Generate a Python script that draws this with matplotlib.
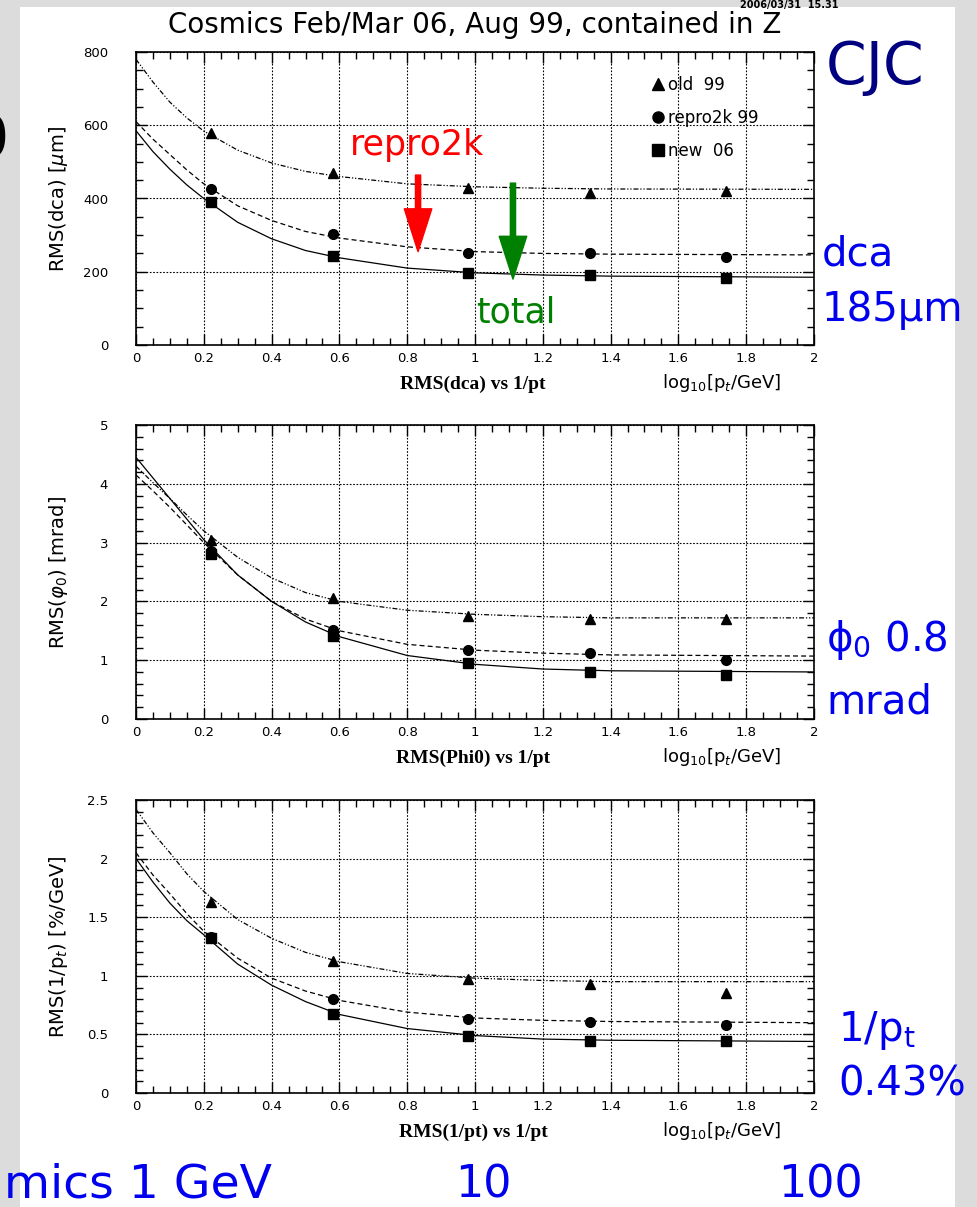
"""
CJC cosmics resolution vs log10(pt) - three panels
"""

import matplotlib.pyplot as plt
from matplotlib.lines import Line2D
from matplotlib.patches import Rectangle
from matplotlib.ticker import MultipleLocator

W, H = 978, 1207

# measured points (x = log10[pt/GeV])
x_pts = [0.22, 0.58, 0.98, 1.34, 1.74]

dca_old = [580, 470, 430, 415, 420]
dca_repro = [425, 302, 250, 250, 240]
dca_new = [390, 242, 197, 190, 182]

phi_old = [3.05, 2.05, 1.75, 1.70, 1.70]
phi_repro = [2.85, 1.52, 1.18, 1.12, 1.00]
phi_new = [2.80, 1.42, 0.95, 0.80, 0.75]

pt_old = [1.63, 1.13, 0.97, 0.93, 0.85]
pt_repro = [1.33, 0.80, 0.63, 0.61, 0.58]
pt_new = [1.32, 0.67, 0.49, 0.44, 0.44]

# fitted curves
x_fit = [0.0, 0.05, 0.1, 0.15, 0.2, 0.3, 0.4, 0.5, 0.6, 0.8, 1.0, 1.2, 1.4, 2.0]

dca_old_fit = [780, 718, 663, 620, 584, 532, 497, 474, 460, 440, 432, 428, 426, 425]
dca_repro_fit = [610, 562, 520, 478, 440, 380, 340, 310, 292, 268, 255, 250, 248, 246]
dca_new_fit = [585, 528, 480, 437, 400, 335, 290, 258, 238, 210, 197, 191, 188, 185]

phi_old_fit = [4.30, 4.02, 3.75, 3.47, 3.20, 2.75, 2.40, 2.15, 2.00, 1.85, 1.78, 1.74, 1.72, 1.72]
phi_repro_fit = [4.15, 3.88, 3.60, 3.30, 3.00, 2.45, 2.00, 1.70, 1.50, 1.27, 1.17, 1.12, 1.09, 1.07]
phi_new_fit = [4.45, 4.10, 3.75, 3.40, 3.05, 2.45, 2.00, 1.65, 1.40, 1.08, 0.93, 0.85, 0.82, 0.80]

pt_old_fit = [2.42, 2.22, 2.05, 1.87, 1.72, 1.48, 1.32, 1.20, 1.12, 1.02, 0.98, 0.96, 0.95, 0.95]
pt_repro_fit = [2.05, 1.86, 1.70, 1.53, 1.38, 1.15, 0.98, 0.87, 0.79, 0.69, 0.64, 0.62, 0.61, 0.60]
pt_new_fit = [2.00, 1.80, 1.62, 1.47, 1.35, 1.10, 0.92, 0.78, 0.67, 0.55, 0.49, 0.46, 0.45, 0.44]

legend_labels = ["old  99", "repro2k 99", "new  06"]


def fx(px):
    return px / W


def fy(py):
    return 1 - py / H


fig = plt.figure(figsize=(W / 100, H / 100), dpi=100, facecolor="#dcdcdc")
fig.patches.append(Rectangle((fx(20), 0), fx(955) - fx(20), fy(7), transform=fig.transFigure,
                             facecolor="white", edgecolor="none", zorder=-5))

panels = [
    # top, bottom pixel, ylim, major, minor, data, ylabel, xlabel
    (52, 345, 800, 200, 50, (dca_old, dca_repro, dca_new),
     (dca_old_fit, dca_repro_fit, dca_new_fit), r"RMS(dca) [$\mu$m]", "RMS(dca) vs 1/pt"),
    (425, 719, 5, 1, 0.2, (phi_old, phi_repro, phi_new),
     (phi_old_fit, phi_repro_fit, phi_new_fit), r"RMS($\varphi_0$) [mrad]", "RMS(Phi0) vs 1/pt"),
    (800, 1093, 2.5, 0.5, 0.1, (pt_old, pt_repro, pt_new),
     (pt_old_fit, pt_repro_fit, pt_new_fit), r"RMS(1/p$_t$) [%/GeV]", "RMS(1/pt) vs 1/pt"),
]

styles = [(0, (4, 1.5, 1, 1.5, 1, 1.5)), (0, (4, 2.5)), "-"]
markers = ["^", "o", "s"]

axes = []
for top, bot, ymax, major, minor, pts, fits, ylab, xlab in panels:
    ax = fig.add_axes([fx(136), fy(bot), fx(814) - fx(136), (bot - top) / H])
    for y, yf, ls, m in zip(pts, fits, styles, markers):
        ax.plot(x_fit, yf, color="black", lw=0.9, ls=ls)
        ax.plot(x_pts, y, ls="none", marker=m, color="black", ms=7)
    ax.set_xlim(0, 2)
    ax.set_ylim(0, ymax)
    ax.xaxis.set_major_locator(MultipleLocator(0.2))
    ax.xaxis.set_minor_locator(MultipleLocator(0.05))
    ax.yaxis.set_major_locator(MultipleLocator(major))
    ax.yaxis.set_minor_locator(MultipleLocator(minor))
    ax.xaxis.set_major_formatter(lambda v, p: "%g" % round(v, 1))
    ax.yaxis.set_major_formatter(lambda v, p: "%g" % round(v, 1))
    ax.tick_params(which="both", direction="in", top=True, right=True, labelsize=9.5, width=1)
    ax.tick_params(which="major", length=8)
    ax.tick_params(which="minor", length=5)
    ax.tick_params(axis="y", pad=20)
    ax.tick_params(axis="x", pad=5)
    ax.grid(True, which="major", color="black", ls=(0, (1.5, 1.5)), lw=0.8)
    for s in ax.spines.values():
        s.set_linewidth(1.2)
    ax.set_ylabel(ylab, fontsize=14)
    ax.yaxis.set_label_coords(-0.097, 0.5)
    ax.text(0.497, -0.135, xlab, transform=ax.transAxes, ha="center", va="center",
            fontsize=14, fontweight="bold", family="Liberation Serif")
    ax.text(0.864, -0.13, r"log$_{10}$[p$_t$/GeV]", transform=ax.transAxes, ha="center",
            va="center", fontsize=13)
    axes.append(ax)

ax1 = axes[0]
handles = [Line2D([], [], ls="none", marker=m, color="black", ms=8) for m in markers]
ax1.legend(handles, legend_labels, loc="upper left", bbox_to_anchor=(0.74, 0.97), frameon=False,
           fontsize=12, handlelength=0.6, handletextpad=0.3, labelspacing=0.9)

# arrows
arrow_style = "simple,head_length=1.4,head_width=0.9,tail_width=0.17"
ax1.annotate("", xy=(0.832, 255), xytext=(0.832, 464),
             arrowprops=dict(arrowstyle=arrow_style, color="red", shrinkA=0, shrinkB=0,
                             mutation_scale=22))
ax1.annotate("", xy=(1.112, 180), xytext=(1.112, 442),
             arrowprops=dict(arrowstyle=arrow_style, color="green", shrinkA=0, shrinkB=0,
                             mutation_scale=22))

fig.text(fx(475), fy(25), "Cosmics Feb/Mar 06, Aug 99, contained in Z", ha="center", va="center",
         fontsize=20)
fig.text(fx(740), fy(5), "2006/03/31  15.31", ha="left", va="center", fontsize=7, fontweight="bold")

fig.text(fx(350), fy(145), "repro2k", color="red", fontsize=25, va="center")
fig.text(fx(476), fy(313), "total", color="green", fontsize=25, va="center")

blue = "#0000ee"
fig.text(fx(826), fy(68), "CJC", color="#000080", fontsize=42, va="center")
fig.text(fx(822), fy(255), "dca", color=blue, fontsize=29, va="center")
fig.text(fx(822), fy(310), "185μm", color=blue, fontsize=29, va="center")
fig.text(fx(826), fy(640), r"ϕ$_{\mathrm{0}}$ 0.8", color=blue, fontsize=29, va="center")
fig.text(fx(826), fy(703), "mrad", color=blue, fontsize=29, va="center")
fig.text(fx(838), fy(1030), r"1/p$_{\mathrm{t}}$", color=blue, fontsize=29, va="center")
fig.text(fx(838), fy(1085), "0.43%", color=blue, fontsize=29, va="center")
fig.text(fx(272), fy(1185), "mics 1 GeV", color=blue, fontsize=34, va="center", ha="right")
fig.text(fx(483), fy(1185), "10", color=blue, fontsize=32, va="center", ha="center")
fig.text(fx(821), fy(1185), "100", color=blue, fontsize=32, va="center", ha="center")
fig.text(fx(8), fy(140), "0", color="black", fontsize=42, va="center", ha="right")

fig.savefig("out.png", dpi=100, facecolor=fig.get_facecolor())
plt.close(fig)
